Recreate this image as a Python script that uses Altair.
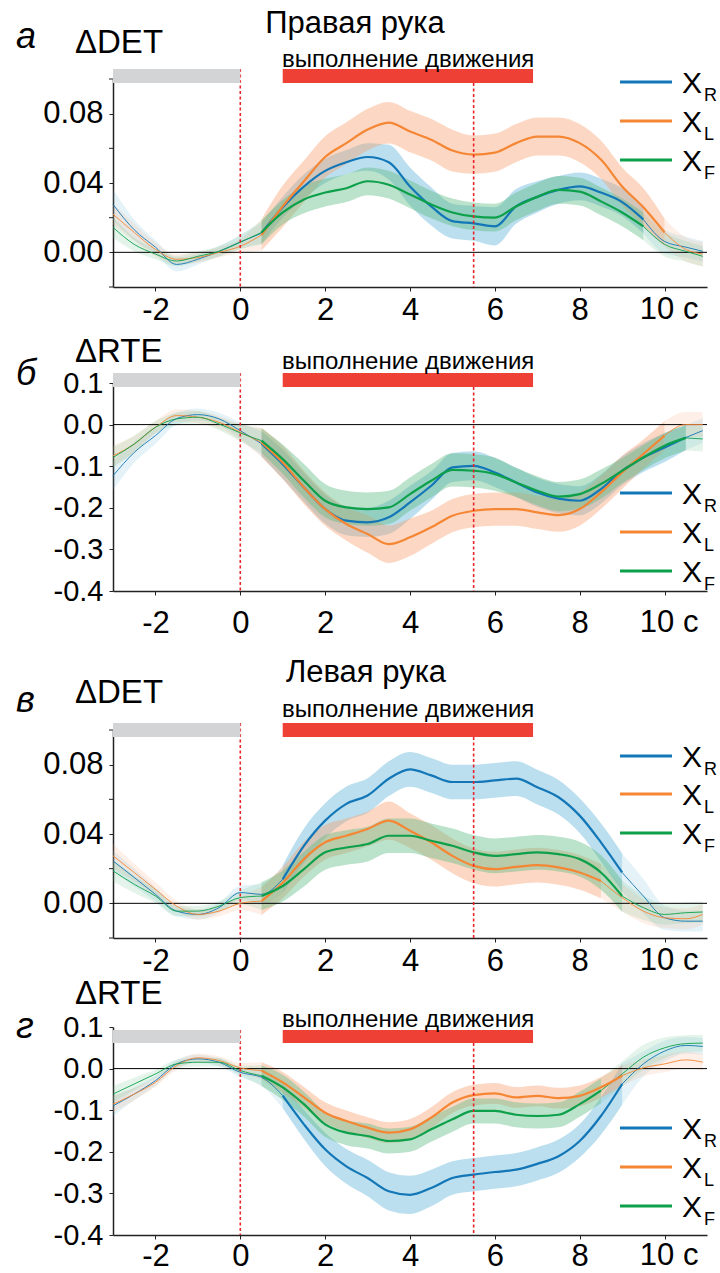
import altair as alt
import pandas as pd

# ---------------- data ----------------
T = [-3, -2.5, -2, -1.5, -1, -0.5, 0, 0.5, 1, 1.5, 2, 2.5, 3, 3.5, 4, 4.5,
     5, 5.5, 6, 6.5, 7, 7.5, 8, 8.5, 9, 9.5, 10, 10.5, 10.9]
SERIES = ["R", "L", "F"]
LINE_COLORS = ["#1276B7", "#F58634", "#0DA04B"]
BAND_COLORS = ["#5DB3D6", "#F7A273", "#5DBA80"]

# panel а : Правая рука, ΔDET
A_R = [0.0276, 0.013, 0.003, -0.007, -0.004, 0.0006, 0.006, 0.011, 0.026, 0.038, 0.047, 0.052, 0.055, 0.052, 0.038, 0.0265,
       0.018, 0.0167, 0.015, 0.0265, 0.032, 0.036, 0.038, 0.0345, 0.029, 0.019, 0.0063, 0.003, 0.0006]
A_L = [0.022, 0.0115, 0.0017, -0.004, -0.003, 0.0, 0.0035, 0.010, 0.0265, 0.041, 0.055, 0.063, 0.0708, 0.0748, 0.0697, 0.065,
       0.0587, 0.0564, 0.0575, 0.063, 0.0668, 0.0668, 0.063, 0.0535, 0.038, 0.026, 0.0115, 0.0017, -0.001]
A_F = [0.0144, 0.0046, -0.001, -0.005, -0.0023, 0.0006, 0.0058, 0.0115, 0.023, 0.0305, 0.0345, 0.037, 0.041, 0.039, 0.0334, 0.0276,
       0.023, 0.0207, 0.020, 0.0265, 0.032, 0.036, 0.035, 0.0294, 0.023, 0.015, 0.0046, 0.0006, -0.0023]
HW_A_R = [0.009, 0.006, 0.004, 0.004, 0.003, 0.003, 0.004, 0.006, 0.006, 0.007, 0.007, 0.007, 0.008, 0.010, 0.011, 0.011,
          0.010, 0.010, 0.011, 0.010, 0.009, 0.008, 0.008, 0.008, 0.008, 0.008, 0.007, 0.006, 0.006]
HW_A_L = [0.006, 0.005, 0.004, 0.003, 0.003, 0.003, 0.004, 0.009, 0.012, 0.012, 0.012, 0.012, 0.012, 0.012, 0.012, 0.012,
          0.012, 0.011, 0.011, 0.011, 0.011, 0.011, 0.011, 0.011, 0.011, 0.011, 0.008, 0.007, 0.007]
HW_A_F = [0.006, 0.004, 0.003, 0.003, 0.003, 0.003, 0.004, 0.007, 0.007, 0.008, 0.008, 0.008, 0.008, 0.008, 0.008, 0.008,
          0.008, 0.008, 0.008, 0.008, 0.008, 0.008, 0.008, 0.008, 0.008, 0.008, 0.007, 0.006, 0.006]
MAIN_A = {"R": (0.5, 9.5), "L": (0.5, 10.0), "F": (0.5, 9.5)}

# panel б : Правая рука, ΔRTE
B_R = [-0.123, -0.067, -0.0265, 0.0145, 0.024, 0.0137, -0.0145, -0.046, -0.095, -0.151, -0.203, -0.231, -0.235, -0.223, -0.187, -0.147,
       -0.103, -0.099, -0.115, -0.139, -0.163, -0.178, -0.183, -0.155, -0.111, -0.079, -0.055, -0.031, -0.0145]
B_L = [-0.075, -0.047, -0.0064, 0.0217, 0.0177, 0.0056, -0.0185, -0.0426, -0.091, -0.151, -0.203, -0.239, -0.263, -0.2875, -0.271, -0.247,
       -0.219, -0.207, -0.203, -0.203, -0.211, -0.2176, -0.203, -0.163, -0.115, -0.0707, -0.0265, 0.0, 0.0]
B_F = [-0.079, -0.0466, -0.0064, 0.0137, 0.0177, 0.0016, -0.02, -0.0386, -0.083, -0.135, -0.183, -0.199, -0.203, -0.199, -0.167, -0.135,
       -0.109, -0.111, -0.119, -0.139, -0.159, -0.173, -0.167, -0.143, -0.111, -0.079, -0.0506, -0.032, -0.0345]
HW_B_R = [0.035, 0.025, 0.02, 0.015, 0.015, 0.015, 0.02, 0.03, 0.035, 0.035, 0.035, 0.035, 0.035, 0.04, 0.04, 0.035,
          0.035, 0.035, 0.035, 0.035, 0.035, 0.035, 0.035, 0.035, 0.035, 0.035, 0.035, 0.03, 0.03]
HW_B_L = [0.025, 0.02, 0.015, 0.015, 0.015, 0.015, 0.02, 0.035, 0.04, 0.04, 0.04, 0.04, 0.045, 0.045, 0.045, 0.04,
          0.04, 0.04, 0.04, 0.04, 0.04, 0.04, 0.04, 0.04, 0.04, 0.035, 0.035, 0.03, 0.03]
HW_B_F = [0.025, 0.02, 0.015, 0.015, 0.015, 0.015, 0.02, 0.03, 0.035, 0.04, 0.04, 0.04, 0.04, 0.04, 0.04, 0.04,
          0.04, 0.04, 0.04, 0.035, 0.035, 0.035, 0.035, 0.035, 0.03, 0.03, 0.03, 0.03, 0.03]
MAIN_B = {"R": (0.5, 10.5), "L": (0.5, 10.0), "F": (0.5, 10.5)}

# panel в : Левая рука, ΔDET
C_R = [0.0245, 0.0149, 0.0052, -0.0045, -0.0064, -0.0025, 0.0062, 0.0052, 0.0139, 0.0332, 0.0477, 0.0574, 0.0622, 0.0719, 0.0773, 0.0738,
       0.070, 0.070, 0.0709, 0.0719, 0.067, 0.0612, 0.0506, 0.0352, 0.0178, 0.0042, -0.0083, -0.0103, -0.0103]
C_L = [0.0274, 0.0178, 0.0081, -0.0016, -0.0064, -0.0045, 0.0, 0.0013, 0.0119, 0.0255, 0.0352, 0.039, 0.0429, 0.0477, 0.0419, 0.0352,
       0.0274, 0.0216, 0.0197, 0.021, 0.022, 0.0207, 0.0178, 0.0129, 0.0033, -0.0045, -0.0083, -0.0089, -0.0064]
C_F = [0.0187, 0.011, 0.0042, -0.0045, -0.0045, -0.0016, 0.0033, 0.0042, 0.01, 0.0197, 0.0294, 0.0322, 0.0342, 0.039, 0.039, 0.0361,
       0.0332, 0.0294, 0.0274, 0.0284, 0.0294, 0.0284, 0.0255, 0.0178, 0.0042, -0.0025, -0.0064, -0.0054, -0.005]
HW_C_R = [0.006, 0.005, 0.004, 0.003, 0.003, 0.003, 0.004, 0.006, 0.008, 0.010, 0.010, 0.010, 0.010, 0.010, 0.010, 0.010,
          0.010, 0.010, 0.010, 0.010, 0.010, 0.010, 0.010, 0.011, 0.011, 0.010, 0.007, 0.006, 0.006]
HW_C_L = [0.007, 0.005, 0.004, 0.003, 0.003, 0.003, 0.004, 0.008, 0.009, 0.010, 0.010, 0.010, 0.010, 0.011, 0.010, 0.010,
          0.010, 0.010, 0.010, 0.010, 0.010, 0.010, 0.010, 0.010, 0.008, 0.007, 0.006, 0.006, 0.006]
HW_C_F = [0.006, 0.005, 0.004, 0.003, 0.003, 0.003, 0.004, 0.008, 0.009, 0.010, 0.010, 0.010, 0.010, 0.010, 0.010, 0.010,
          0.010, 0.010, 0.010, 0.010, 0.010, 0.010, 0.010, 0.010, 0.009, 0.007, 0.006, 0.006, 0.006]
MAIN_C = {"R": (1.0, 9.0), "L": (0.5, 8.5), "F": (0.5, 9.0)}

# panel г : Левая рука, ΔRTE
D_R = [-0.0896, -0.0613, -0.029, 0.0113, 0.0234, 0.0153, -0.009, -0.021, -0.065, -0.134, -0.194, -0.235, -0.263, -0.295, -0.3035, -0.287,
       -0.263, -0.255, -0.2486, -0.243, -0.229, -0.2106, -0.174, -0.114, -0.037, 0.0113, 0.042, 0.0557, 0.0533]
D_L = [-0.0855, -0.0613, -0.033, 0.0073, 0.026, 0.0194, 0.0017, -0.0048, -0.033, -0.069, -0.106, -0.126, -0.142, -0.154, -0.146, -0.118,
       -0.0815, -0.0637, -0.0597, -0.0694, -0.0654, -0.071, -0.0654, -0.045, -0.017, 0.0017, 0.0113, 0.021, 0.0153]
D_F = [-0.0613, -0.037, -0.0129, 0.0113, 0.0153, 0.0153, -0.0048, -0.017, -0.045, -0.0855, -0.134, -0.154, -0.162, -0.174, -0.170, -0.146,
       -0.1218, -0.1017, -0.1017, -0.111, -0.114, -0.111, -0.0855, -0.053, -0.0129, 0.0274, 0.050, 0.060, 0.0613]
HW_D_R = [0.025, 0.015, 0.012, 0.010, 0.010, 0.010, 0.012, 0.02, 0.03, 0.035, 0.04, 0.042, 0.044, 0.046, 0.046, 0.044,
          0.04, 0.04, 0.04, 0.04, 0.04, 0.04, 0.04, 0.045, 0.05, 0.03, 0.025, 0.02, 0.02]
HW_D_L = [0.02, 0.015, 0.01, 0.01, 0.01, 0.01, 0.012, 0.02, 0.025, 0.025, 0.025, 0.025, 0.025, 0.025, 0.025, 0.025,
          0.025, 0.025, 0.025, 0.025, 0.025, 0.025, 0.025, 0.025, 0.025, 0.02, 0.02, 0.02, 0.02]
HW_D_F = [0.02, 0.015, 0.01, 0.01, 0.01, 0.01, 0.012, 0.025, 0.03, 0.03, 0.03, 0.03, 0.03, 0.03, 0.03, 0.03,
          0.03, 0.03, 0.03, 0.03, 0.03, 0.03, 0.03, 0.03, 0.03, 0.03, 0.025, 0.02, 0.02]
MAIN_D = {"R": (1.0, 9.0), "L": (0.5, 9.0), "F": (0.5, 8.5)}

X_TICKS = [-2, 0, 2, 4, 6, 8, 10]
DET_LABELED = [0, 0.04, 0.08]
DET_MINOR = [-0.02, 0.02, 0.06, 0.1]
RTE_TICKS = [-0.4, -0.3, -0.2, -0.1, 0, 0.1]
GRAY_SPAN = [-3, 0]
RED_SPAN = [1, 6.9]
MARKERS = [0, 5.5]

# ---------------- styling ----------------
FONT = "Liberation Sans"
W, H = 594, 208
RED = "#EE4035"
DOT_RED = "#E8252B"
GRAY = "#D3D4D6"
AX = "#222222"
one = pd.DataFrame({"z": [0]})


def build(means, hws, bounds):
    rows = []
    for s in SERIES:
        lo_t, hi_t = bounds[s]
        for t, m, h in zip(T, means[s], hws[s]):
            segs = []
            if t <= lo_t:
                segs.append("pre")
            if lo_t <= t <= hi_t:
                segs.append("main")
            if t >= hi_t:
                segs.append("post")
            for g in segs:
                rows.append(dict(t=t, s=s, sb=s + "_b", seg=g, key=s + g,
                                 m=m, lo=m - h, hi=m + h))
    return pd.DataFrame(rows)


def txt(s, x, y, size, align="left", style="normal", baseline="alphabetic"):
    return alt.Chart(one).mark_text(
        text=s, align=align, baseline=baseline, fontSize=size, font=FONT,
        fontStyle=style, color="black").encode(x=alt.value(x), y=alt.value(y))


CDOM = SERIES + [s + "_b" for s in SERIES]
CRANGE = LINE_COLORS + BAND_COLORS

X_EXPR = ("datum.value == 10 ? '' : (datum.value < 0 ? '-' + format(-datum.value, 'd') "
          ": format(datum.value, 'd'))")
RTE_EXPR = "datum.value < 0 ? '-' + format(-datum.value, '.1f') : format(datum.value, '.1f')"
DET_EXPR = "format(datum.value, '.2f')"


def panel(df, ydom, yvals, ylabel_expr, yfont, minor, xpad, letter, letter_y, metric, metric_y,
          title, title_y, bar_y, dot1_y, dot2_y, move_y, leg_y, anchor=False):
    xs = alt.Scale(domain=[-3, 11], nice=False, zero=False)
    ys = alt.Scale(domain=ydom, nice=False, zero=False)
    xaxis = alt.Axis(values=X_TICKS, title="", grid=False, labelExpr=X_EXPR,
                     labelFontSize=31, labelFont=FONT, labelColor="black",
                     labelPadding=xpad, tickSize=4, tickColor=AX, tickWidth=1,
                     domainColor=AX, domainWidth=1.5, labelFlush=False,
                     labelOverlap=False)
    yaxis = alt.Axis(values=yvals, title="", grid=False, labelExpr=ylabel_expr,
                     labelFontSize=yfont, labelFont=FONT, labelColor="black",
                     labelPadding=6, tickSize=4, tickColor=AX, tickWidth=1,
                     domainColor=AX, domainWidth=1.5, labelFlush=False,
                     labelOverlap=False)
    X = alt.X("t:Q", scale=xs, axis=xaxis)
    cscale = alt.Scale(domain=CDOM, range=CRANGE)
    base = alt.Chart(df)
    layers = []
    for seg_filter, op in [("datum.seg != 'main'", 0.16), ("datum.seg == 'main'", 0.42)]:
        layers.append(base.mark_area(opacity=op, interpolate="monotone")
                      .encode(x=X, y=alt.Y("lo:Q", scale=ys, axis=yaxis), y2="hi:Q",
                              color=alt.Color("sb:N", scale=cscale, legend=None),
                              detail="key:N")
                      .transform_filter(seg_filter))
    layers.append(alt.Chart(one).mark_rule(color="black", strokeWidth=1)
                  .encode(y=alt.datum(0)))
    for seg_filter, sw in [("datum.seg != 'main'", 0.9), ("datum.seg == 'main'", 2.2)]:
        layers.append(base.mark_line(strokeWidth=sw, interpolate="monotone")
                      .encode(x=X, y=alt.Y("m:Q", scale=ys, axis=yaxis),
                              color=alt.Color("s:N", scale=cscale, legend=None),
                              detail="key:N")
                      .transform_filter(seg_filter))
    # unlabeled minor ticks on the y axis
    if minor:
        layers.append(alt.Chart(pd.DataFrame({"v": minor})).mark_rule(color=AX, strokeWidth=1)
                      .encode(y=alt.Y("v:Q", scale=ys, axis=yaxis),
                              x=alt.value(-4), x2=alt.value(0)))
    # dotted markers
    for xv, y0 in zip(MARKERS, [dot1_y, dot2_y]):
        layers.append(alt.Chart(one).mark_rule(color=DOT_RED, strokeDash=[3, 2.5], strokeWidth=1.6)
                      .encode(x=alt.datum(xv), y=alt.value(y0), y2=alt.value(H)))
    # gray and red bars
    layers.append(alt.Chart(one).mark_rect(color=GRAY)
                  .encode(x=alt.datum(GRAY_SPAN[0]), x2=alt.datum(GRAY_SPAN[1]),
                          y=alt.value(bar_y[0]), y2=alt.value(bar_y[1])))
    layers.append(alt.Chart(one).mark_rect(color=RED)
                  .encode(x=alt.datum(RED_SPAN[0]), x2=alt.datum(RED_SPAN[1]),
                          y=alt.value(bar_y[0]), y2=alt.value(bar_y[1])))
    # texts
    layers.append(txt("выполнение движения", 169, move_y, 24))
    layers.append(txt(letter, -97, letter_y, 36, style="italic"))
    layers.append(txt(metric, -38, metric_y, 33))
    if title:
        layers.append(txt(title[0], title[1], title_y, 31, align="center"))
    # last tick label "10" with the unit "c"
    layers.append(txt("10", 544, H + 4 + xpad, 31, align="center", baseline="top"))
    layers.append(txt("c", 570, H + 4 + xpad, 31, baseline="top"))
    # legend
    for i, (s, c) in enumerate(zip(SERIES, LINE_COLORS)):
        ly = leg_y[i]
        layers.append(alt.Chart(one).mark_rule(color=c, strokeWidth=3)
                      .encode(x=alt.value(507), x2=alt.value(559), y=alt.value(ly)))
        layers.append(txt("X", 569, ly + 11, 30))
        layers.append(txt(s, 591, ly + 19, 18))
    if anchor:
        layers.append(alt.Chart(one).mark_rect(opacity=0)
                      .encode(x=alt.value(-113), x2=alt.value(-111),
                              y=alt.value(-79), y2=alt.value(-77)))
    return alt.layer(*layers).properties(width=W, height=H)


pa = panel(build({"R": A_R, "L": A_L, "F": A_F}, {"R": HW_A_R, "L": HW_A_L, "F": HW_A_F}, MAIN_A),
           [-0.02, 0.1], DET_LABELED, DET_EXPR, 31, DET_MINOR, 4, "а", -31, "ΔDET", -26,
           ("Правая рука", 242), -46, (-10, 4), -10, 4, -12, [3, 42, 81], anchor=True)
pb = panel(build({"R": B_R, "L": B_L, "F": B_F}, {"R": HW_B_R, "L": HW_B_L, "F": HW_B_F}, MAIN_B),
           [-0.4, 0.1], RTE_TICKS, RTE_EXPR, 29, None, 13, "б", 2, "ΔRTE", -21,
           None, 0, (-10, 4), -10, 4, -14, [110, 149, 188])
pc = panel(build({"R": C_R, "L": C_L, "F": C_F}, {"R": HW_C_R, "L": HW_C_L, "F": HW_C_F}, MAIN_C),
           [-0.02, 0.1], DET_LABELED, DET_EXPR, 31, DET_MINOR, 4, "в", -18, "ΔDET", -27,
           ("Левая рука", 253), -48, (-7, 7), -7, 7, -13, [26, 64, 103])
pd_ = panel(build({"R": D_R, "L": D_L, "F": D_F}, {"R": HW_D_R, "L": HW_D_L, "F": HW_D_F}, MAIN_D),
            [-0.4, 0.1], RTE_TICKS, RTE_EXPR, 29, None, 2, "г", 11, "ΔRTE", -23,
            None, 0, (3, 16), 3, 16, 0, [101, 140, 179])


def spacer(h):
    return alt.Chart(one).mark_point(opacity=0).encode(
        x=alt.X("z:Q", axis=None), y=alt.Y("z:Q", axis=None)
    ).properties(width=W, height=h)


chart = alt.vconcat(pa, spacer(96), pb, spacer(139), pc, spacer(89), pd_,
                    spacing=0, bounds="flush").resolve_scale(
    x="independent", y="independent", color="independent"
).properties(padding=0, background="white").configure_view(strokeWidth=0)

chart.save("out.html", embed_options={"renderer": "svg", "actions": False})
